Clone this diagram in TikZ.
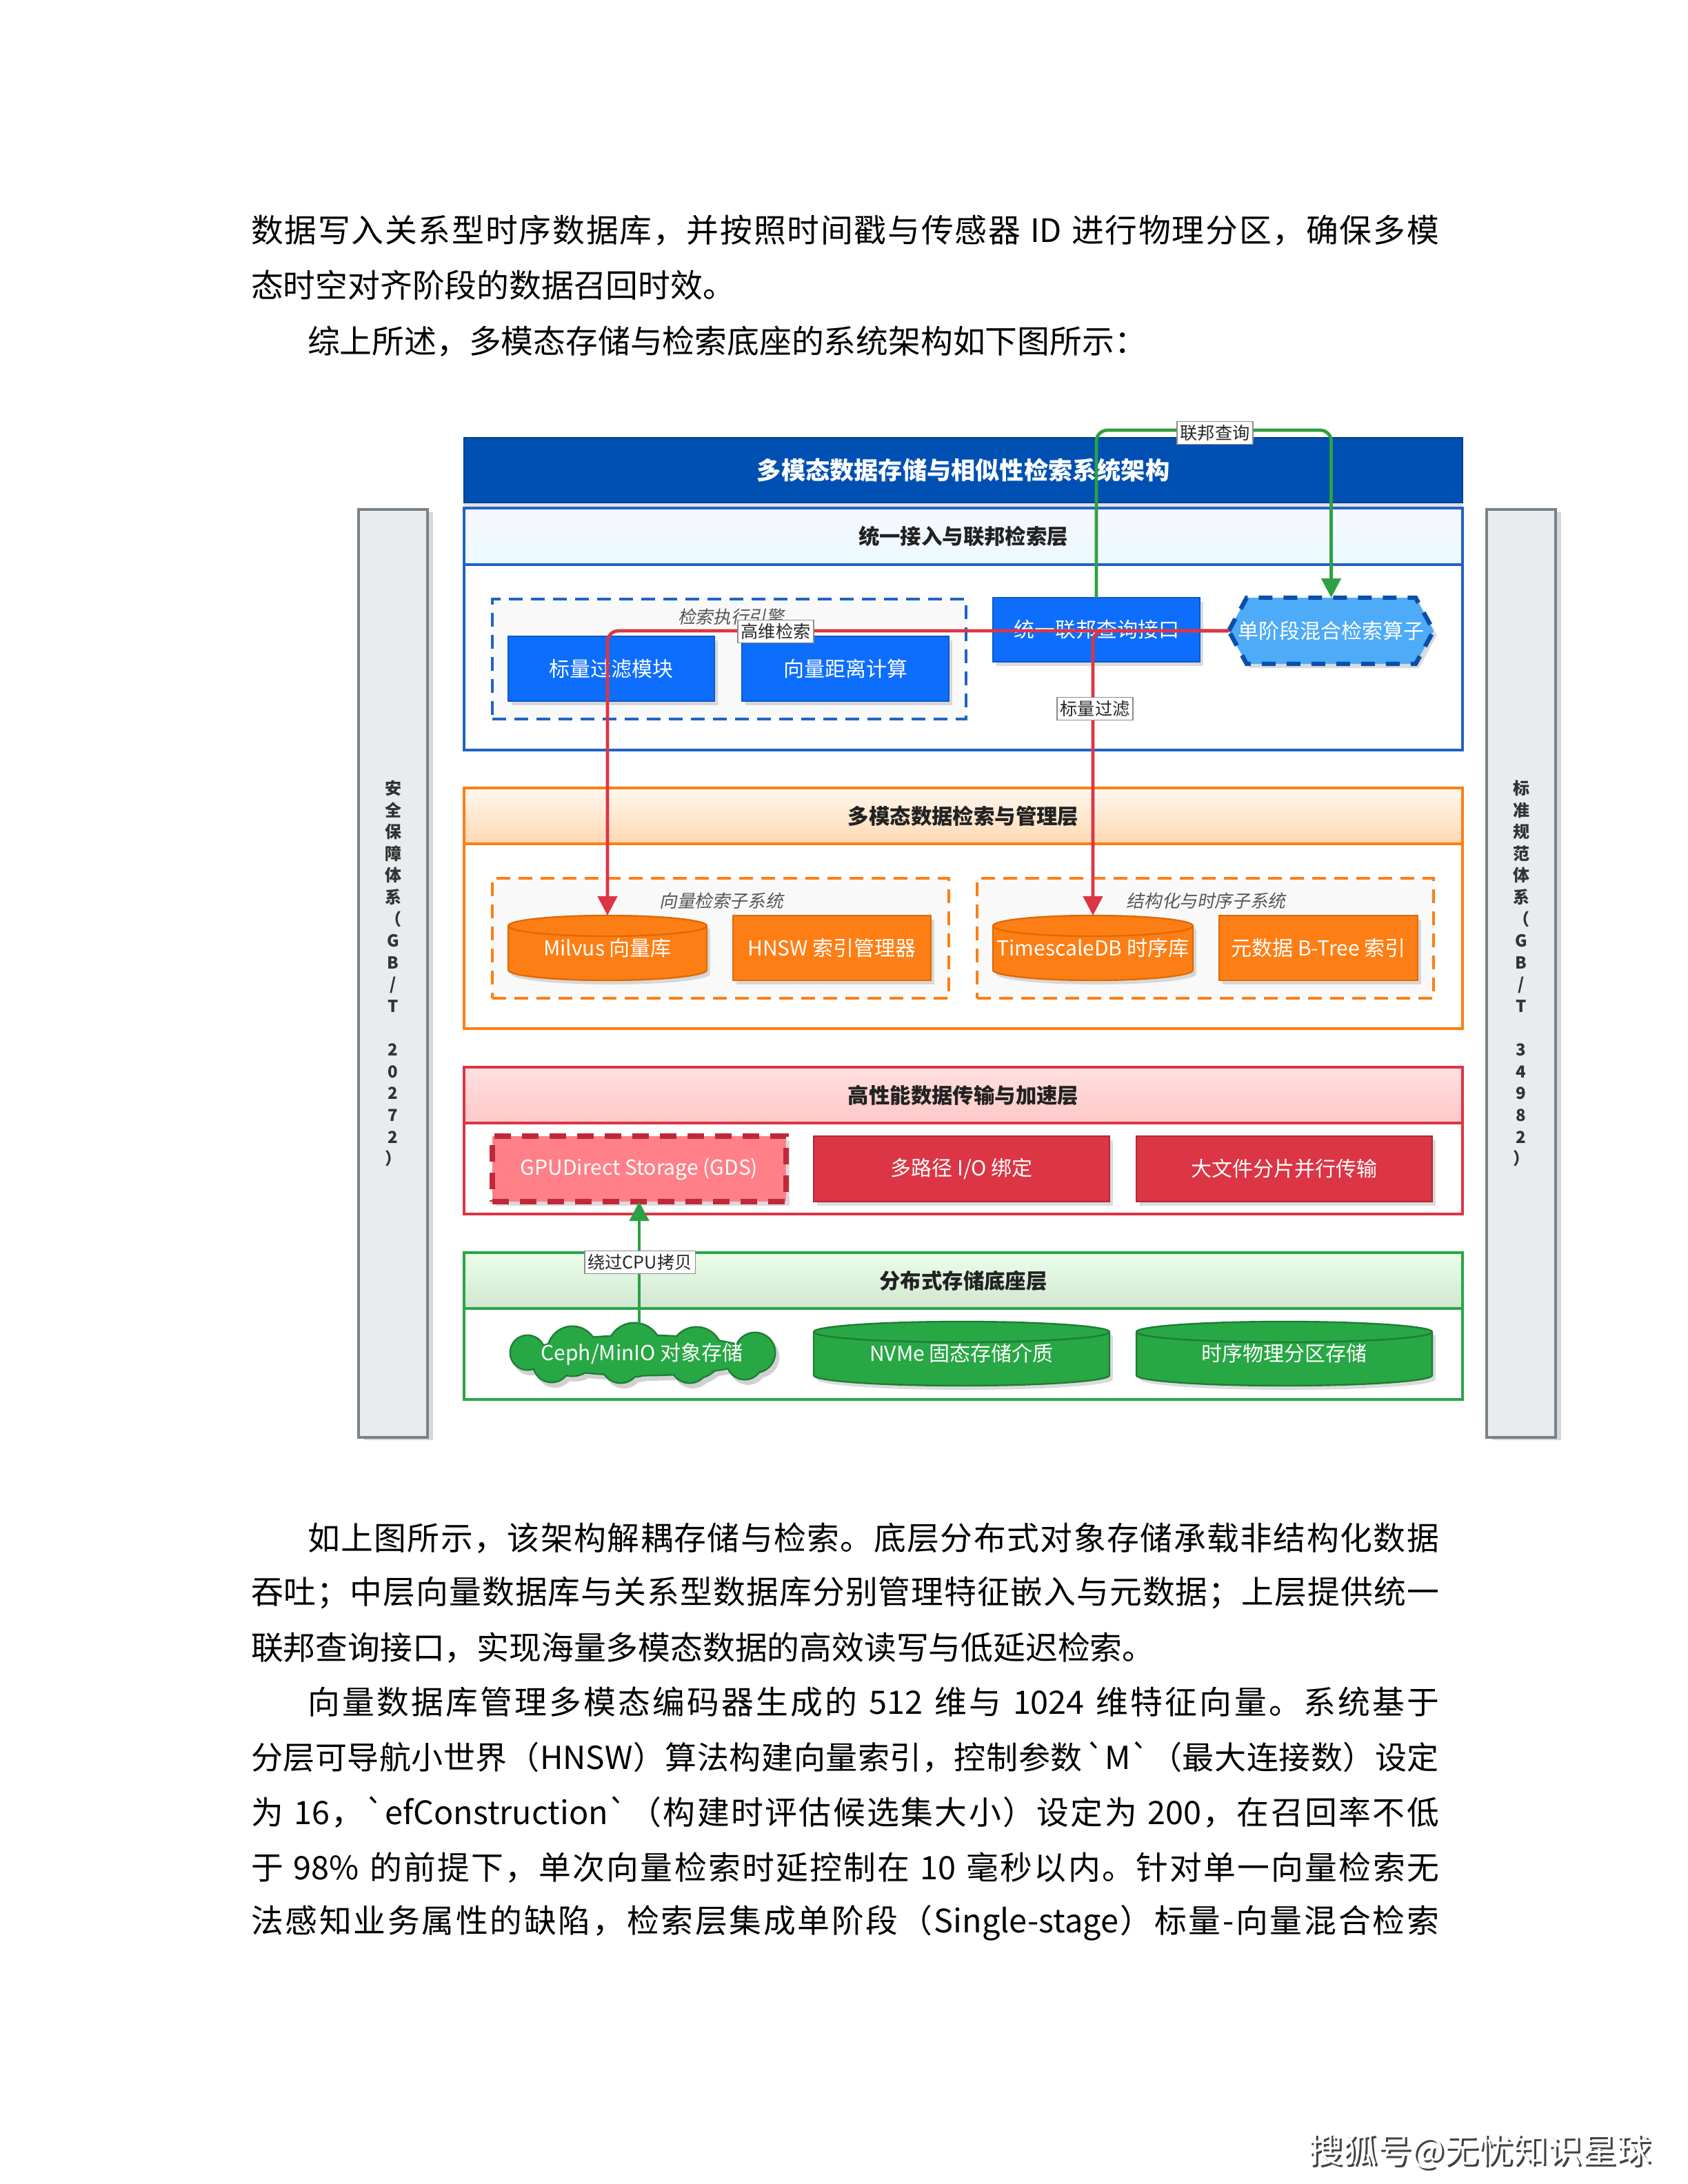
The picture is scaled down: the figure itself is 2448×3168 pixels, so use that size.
\documentclass[tikz,border=0pt]{standalone}
\usepackage{fontspec}
\setmainfont{Noto Sans CJK SC}
\newfontfamily\itcjk{Noto Sans CJK SC}[FakeSlant=0.2]
\usetikzlibrary{shapes.geometric,shapes.symbols,shadows,arrows.meta,calc}
\definecolor{cTitle}{HTML}{0050B3}
\definecolor{cTitleD}{HTML}{003F8F}
\definecolor{cBlue}{HTML}{0D6EFD}
\definecolor{cBlueD}{HTML}{0A58CA}
\definecolor{cBlueL}{HTML}{1F63C6}
\definecolor{cHex}{HTML}{4DABF7}
\definecolor{cHexD}{HTML}{0B4FA8}
\definecolor{cOr}{HTML}{FD7E14}
\definecolor{cOrD}{HTML}{E06A00}
\definecolor{cRed}{HTML}{DC3545}
\definecolor{cRedD}{HTML}{B02A37}
\definecolor{cGds}{HTML}{FF8088}
\definecolor{cGdsD}{HTML}{C0283A}
\definecolor{cGreen}{HTML}{28A745}
\definecolor{cGreenD}{HTML}{1E7E34}
\definecolor{cGreenE}{HTML}{2EA043}
\definecolor{cSide}{HTML}{E9ECEF}
\definecolor{cSideD}{HTML}{7A8288}
\definecolor{cGrp}{HTML}{F9F9FA}
\definecolor{cHead}{HTML}{222222}
\definecolor{cGray}{HTML}{555555}
% justified line: glue between every item
\def\jstopmac{\jstop}
\def\jfirst#1{#1\jrest}
\def\jrest#1{\def\jarg{#1}\ifx\jarg\jstopmac\else\hskip0pt plus 1fil\relax#1\expandafter\jrest\fi}
\newcommand\jl[2]{\hbox to #1{\jfirst#2\jstop}}
\newcommand\bx[7]{\node[#6, minimum width={0.25pt*(#4-#2)}, minimum height={0.25pt*(#5-#3)}] (#1) at ({(#2+#4)/2},{(#3+#5)/2}) {#7};}
\newcommand\cylnode[8]{%
 \pgfmathsetmacro\cyR{15}%
 \pgfmathsetmacro\cyA{(#4-#2)/2}%
 \path[fill=#6, draw=#7, line width=0.6pt, drop shadow={shadow xshift=1.2pt, shadow yshift=-1.5pt, opacity=0.28}] (#2,#3+\cyR) -- (#2,#5-\cyR) arc[start angle=180, end angle=0, x radius=\cyA, y radius=\cyR] -- (#4,#3+\cyR) arc[start angle=0, end angle=-180, x radius=\cyA, y radius=\cyR] -- cycle;
 \draw[#7, line width=0.6pt] (#2,#3+\cyR) arc[start angle=180, end angle=0, x radius=\cyA, y radius=\cyR];
 \node[text=white, font=\fontsize{7.5}{9}\selectfont, minimum width={0.25pt*(#4-#2)}, minimum height={0.25pt*(#5-#3)}] (#1) at ({(#2+#4)/2},{(#3+#5)/2}) {#8};}
\newcommand\cloudblob[2]{%
 \fill[#2] (931,1966) ellipse [x radius=165+#1, y radius=28+#1];
 \foreach \cx/\cy/\cr in {830/1960/35, 920/1958/38, 1010/1962/36, 800/1978/26, 900/1978/27, 1000/1978/27, 1080/1975/25, 765/1962/24, 1095/1962/28} {\fill[#2] (\cx,\cy) circle [radius=\cr+#1];}}
\begin{document}
\begin{tikzpicture}[x=0.25pt,y=-0.25pt,
  every node/.style={inner sep=0pt, outer sep=0pt},
  bodyline/.style={anchor=west, font=\fontsize{11.7}{14}\selectfont, text=black},
  titlebar/.style={fill=cTitle, draw=cTitleD, line width=0.6pt, text=white, font=\bfseries\fontsize{8.8}{10}\selectfont, drop shadow={shadow xshift=0pt, shadow yshift=-2pt, opacity=0.25}},
  layerbox/.style={draw=#1, line width=1pt, fill=white},
  lhead/.style={draw=#1, line width=1pt, font=\bfseries\fontsize{7.6}{9}\selectfont, text=cHead},
  box/.style={line width=0.6pt, text=white, font=\fontsize{7.5}{9}\selectfont, drop shadow={shadow xshift=1.2pt, shadow yshift=-1.5pt, opacity=0.28}},
  grp/.style={draw=#1, dash pattern=on 5pt off 3pt, line width=0.9pt, fill=cGrp},
  grplabel/.style={font=\itcjk\fontsize{6.4}{8}\selectfont, text=cGray},
  elabel/.style={fill=white, draw=black!45, line width=0.4pt, inner sep=1.2pt, font=\fontsize{6.3}{7.5}\selectfont, text=black!85},
  gedge/.style={draw=cGreenE, line width=1.2pt, rounded corners=4pt, -{Triangle[length=7pt,width=7pt]}},
  redge/.style={draw=cRed, line width=1.2pt, rounded corners=4pt, -{Triangle[length=7pt,width=7pt]}},
  sbar/.style={fill=cSide, draw=cSideD, line width=0.8pt, drop shadow={shadow xshift=2pt, shadow yshift=-1pt, opacity=0.3}},
  sbtext/.style={align=center, font=\bfseries\fontsize{6}{7.9}\selectfont, text=black!80}
]
\fill[white] (0,0) rectangle (2448,3168);
\useasboundingbox (0,0) rectangle (2448,3168);

% body text above
\node[bodyline] (t1) at (364,334) {\jl{430.75pt}{数据写入关系型时序数据库，并按照时间戳与传感器~{ID}~进行物理分区，确保多模}};
\node[bodyline] (t2) at (364,414) {态时空对齐阶段的数据召回时效。};
\node[bodyline] (t3) at (446,495) {综上所述，多模态存储与检索底座的系统架构如下图所示：};

% sidebars
\bx{sbl}{520}{739}{620}{2085}{sbar}{}
\bx{sbr}{2156}{739}{2256}{2085}{sbar}{}
\node[sbtext] (sblt) at (570,1412) {安\\全\\保\\障\\体\\系\\（\\G\\B\\/\\T\\\mbox{}\\2\\0\\2\\7\\2\\）};
\node[sbtext] (sbrt) at (2206,1412) {标\\准\\规\\范\\体\\系\\（\\G\\B\\/\\T\\\mbox{}\\3\\4\\9\\8\\2\\）};

% title
\bx{title}{673}{635}{2121}{729}{titlebar}{多模态数据存储与相似性检索系统架构}

% layer 1
\bx{L1}{673}{737}{2121}{1088}{layerbox=cBlueL}{}
\bx{L1h}{673}{737}{2121}{819}{lhead=cBlueL, top color=white!60!blue!8, bottom color=blue!18!cyan!8}{统一接入与联邦检索层}
\bx{g1}{714}{869}{1401}{1043}{grp=cBlueL}{}
\node[grplabel] (g1l) at (1060,895) {检索执行引擎};
\bx{sf}{737}{923}{1036}{1017}{box, fill=cBlue, draw=cBlueD}{标量过滤模块}
\bx{vd}{1076}{923}{1376}{1017}{box, fill=cBlue, draw=cBlueD}{向量距离计算}
\bx{iface}{1440}{867}{1740}{960}{box, fill=cBlue, draw=cBlueD}{统一联邦查询接口}
\path[fill=cHex, draw=cHexD, line width=1.6pt, dash pattern=on 5pt off 4pt, drop shadow={shadow xshift=1.2pt, shadow yshift=-1.5pt, opacity=0.28}]
  (1782,915) -- (1808,867) -- (2053,867) -- (2079,915) -- (2053,963) -- (1808,963) -- cycle;
\bx{hex}{1782}{867}{2079}{963}{text=white, font=\fontsize{7.5}{9}\selectfont}{单阶段混合检索算子}

% layer 2
\bx{L2}{673}{1143}{2121}{1492}{layerbox=cOr}{}
\bx{L2h}{673}{1143}{2121}{1224}{lhead=cOr, top color=orange!6, bottom color=orange!30}{多模态数据检索与管理层}
\bx{g2}{714}{1274}{1376}{1448}{grp=cOr}{}
\bx{g3}{1417}{1274}{2079}{1448}{grp=cOr}{}
\node[grplabel] (g2l) at (1046,1307) {向量检索子系统};
\node[grplabel] (g3l) at (1749,1307) {结构化与时序子系统};
\cylnode{milvus}{737}{1328}{1025}{1422}{cOr}{cOrD}{Milvus 向量库}
\bx{hnsw}{1063}{1328}{1350}{1422}{box, fill=cOr, draw=cOrD}{HNSW 索引管理器}
\cylnode{ts}{1440}{1328}{1730}{1422}{cOr}{cOrD}{TimescaleDB 时序库}
\bx{btree}{1768}{1328}{2056}{1422}{box, fill=cOr, draw=cOrD}{元数据 B-Tree 索引}

% layer 3
\bx{L3}{673}{1548}{2121}{1761}{layerbox=cRed}{}
\bx{L3h}{673}{1548}{2121}{1629}{lhead=cRed, top color=red!12, bottom color=red!22}{高性能数据传输与加速层}
\bx{gds}{714}{1648}{1140}{1743}{box, fill=cGds, draw=cGdsD, line width=1.8pt, dash pattern=on 6pt off 4pt}{GPUDirect Storage (GDS)}
\bx{mpio}{1180}{1648}{1609}{1743}{box, fill=cRed, draw=cRedD}{多路径 I/O 绑定}
\bx{shard}{1648}{1648}{2077}{1743}{box, fill=cRed, draw=cRedD}{大文件分片并行传输}

% layer 4
\bx{L4}{673}{1817}{2121}{2030}{layerbox=cGreen}{}
\bx{L4h}{673}{1817}{2121}{1898}{lhead=cGreen, top color=green!8!white, bottom color=green!45!black!18}{分布式存储底座层}
\cloudblob{2.5}{black!18, xshift=1.2pt, yshift=-1.6pt}
\cloudblob{2.5}{cGreenD}
\cloudblob{0}{cGreen}
\bx{ceph}{739}{1920}{1123}{2008}{text=white, font=\fontsize{7.5}{9}\selectfont}{Ceph/MinIO 对象存储}
\cylnode{nvme}{1180}{1917}{1609}{2010}{cGreen}{cGreenD}{NVMe 固态存储介质}
\cylnode{tspart}{1648}{1917}{2077}{2010}{cGreen}{cGreenD}{时序物理分区存储}

% connectors
\coordinate (gq) at (1760,624);
\draw[gedge] (iface.north) -- (iface.north |- gq) -| (hex.north);
\node[elabel] (gql) at (1762,628) {联邦查询};
\draw[redge] (hex.west) -| (milvus.north);
\draw[redge] (hex.west) -| (ts.north);
\node[elabel] (hwl) at (1125,916) {高维检索};
\node[elabel] (sfl) at (1588,1028) {标量过滤};
\draw[gedge] (ceph.north -| gds.south) -- (gds.south);
\node[elabel] (cpl) at (928,1831) {绕过CPU拷贝};

% body text below
\node[bodyline] (b1) at (446,2231) {\jl{410.25pt}{如上图所示，该架构解耦存储与检索。底层分布式对象存储承载非结构化数据}};
\node[bodyline] (b2) at (364,2310) {\jl{430.75pt}{吞吐；中层向量数据库与关系型数据库分别管理特征嵌入与元数据；上层提供统一}};
\node[bodyline] (b3) at (364,2390) {联邦查询接口，实现海量多模态数据的高效读写与低延迟检索。};
\node[bodyline] (b4) at (446,2469) {\jl{410.25pt}{向量数据库管理多模态编码器生成的~{512}~维与~{1024}~维特征向量。系统基于}};
\node[bodyline, font=\fontsize{11.5}{14}\selectfont] (b5) at (364,2549) {\jl{430.75pt}{分层可导航小世界（{HNSW}）算法构建向量索引，控制参数{\kern1pt}{\textasciigrave M\textasciigrave}（最大连接数）设定}};
\node[bodyline] (b6) at (364,2629) {\jl{430.75pt}{为~{16}，{\textasciigrave efConstruction\textasciigrave}（构建时评估候选集大小）设定为~{200}，在召回率不低}};
\node[bodyline] (b7) at (364,2709) {\jl{430.75pt}{于~{98\%}~的前提下，单次向量检索时延控制在~{10}~毫秒以内。针对单一向量检索无}};
\node[bodyline] (b8) at (364,2789) {\jl{430.75pt}{法感知业务属性的缺陷，检索层集成单阶段（{Single-stage}）标量-向量混合检索}};

% corner mark
\node[font=\fontsize{12.5}{14}\selectfont, text=black!75] (wm1) at (2149,3124) {搜狐号@无忧知识星球};
\node[font=\fontsize{12.5}{14}\selectfont, text=white] (wm2) at (2146,3121) {搜狐号@无忧知识星球};
\end{tikzpicture}
\end{document}
